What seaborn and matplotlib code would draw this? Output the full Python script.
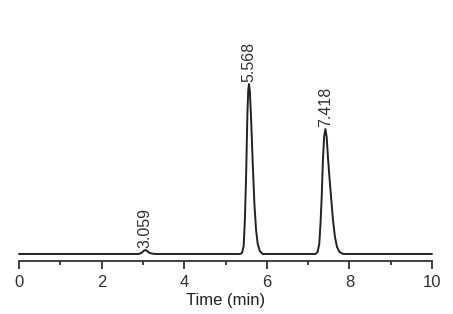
import matplotlib
matplotlib.use("Agg")
import matplotlib.pyplot as plt
import seaborn as sns
import pandas as pd
from matplotlib.ticker import MultipleLocator

sns.set_style("white")
plt.rcParams['font.family'] = ['Liberation Sans', 'DejaVu Sans']

# Chromatogram trace (time in min, signal in arbitrary units)
time = [0.0, 2.90, 2.98, 3.03, 3.06, 3.10, 3.16, 3.25, 3.35,
        5.35, 5.40, 5.44, 5.47, 5.50, 5.53, 5.55, 5.568, 5.59, 5.62, 5.66,
        5.70, 5.74, 5.78, 5.83, 5.90,
        7.18, 7.23, 7.27, 7.30, 7.33, 7.36, 7.39, 7.418, 7.45, 7.48, 7.52,
        7.56, 7.60, 7.65, 7.70, 7.76, 7.85, 10.0]
signal = [0, 0, 1.5, 3.5, 4, 3, 1, 0.2, 0,
          0, 1, 8, 35, 80, 140, 163, 170, 163, 135, 90,
          50, 24, 10, 3, 0,
          0, 2, 10, 30, 58, 95, 118, 125, 117, 97, 75,
          55, 35, 17, 7, 2, 0, 0]

peak_times = [3.059, 5.568, 7.418]
peak_heights = [4, 170, 125]
peak_labels = ["3.059", "5.568", "7.418"]

df = pd.DataFrame({"Time": time, "Signal": signal})

fig = plt.figure(figsize=(4.53, 3.14), dpi=100)
ax = fig.add_axes([19/453, (314-261)/314, (432-19)/453, 241/314])

sns.lineplot(data=df, x="Time", y="Signal", ax=ax, color="#222222",
             linewidth=1.4, estimator=None, sort=False, clip_on=False)

for t, h, lab in zip(peak_times, peak_heights, peak_labels):
    ax.annotate(lab, xy=(t, h), xytext=(0, 1.5), textcoords="offset points",
                rotation=90, ha="center", va="bottom", fontsize=11.5,
                color="#333333")

ax.set_xlim(0, 10)
ax.set_ylim(-7, 234)
ax.xaxis.set_major_locator(MultipleLocator(2))
ax.xaxis.set_minor_locator(MultipleLocator(1))
ax.tick_params(axis="x", which="major", direction="out", length=6, width=1.3,
               bottom=True, labelsize=12, pad=4, colors="#333333")
ax.tick_params(axis="x", which="minor", direction="out", length=3, width=1.3,
               bottom=True, colors="#333333")
ax.set_yticks([])
for s in ["left", "right", "top"]:
    ax.spines[s].set_visible(False)
ax.spines["bottom"].set_linewidth(1.3)
ax.spines["bottom"].set_color("#333333")
ax.set_xlabel("Time (min)", fontsize=12, labelpad=2, color="#222222")
ax.set_ylabel("")

fig.savefig("out.png", dpi=100)
